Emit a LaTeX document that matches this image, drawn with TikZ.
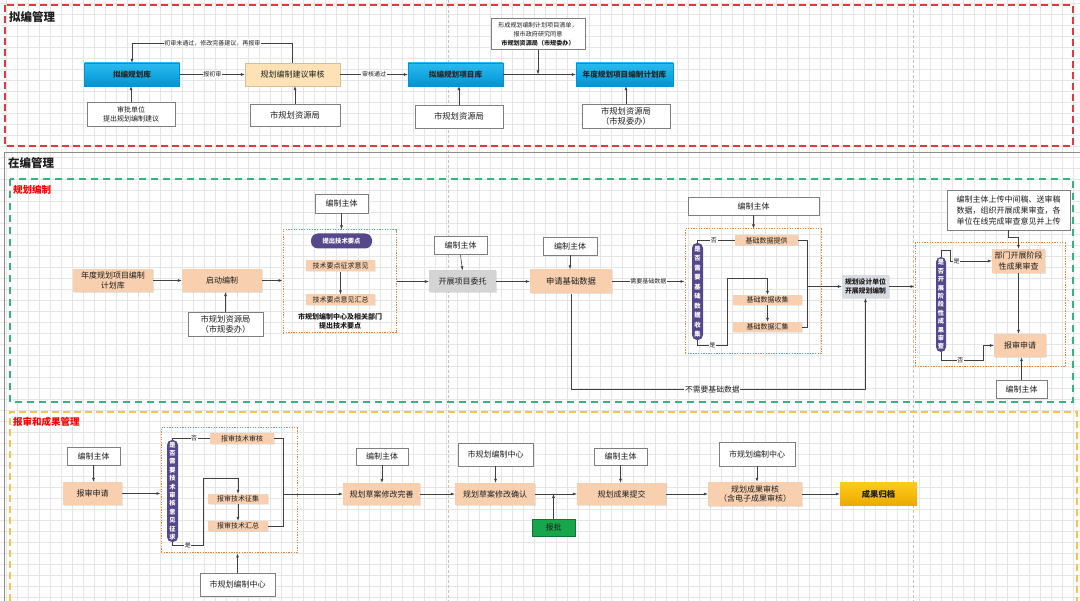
\documentclass[tikz,border=0pt]{standalone}
\usepackage{fontspec}
\setmainfont{Noto Sans CJK SC}
\usetikzlibrary{arrows.meta,shadows,calc}
\definecolor{cGrid}{HTML}{E6E6E6}
\definecolor{cPB}{HTML}{C4C4C4}
\definecolor{cRed}{HTML}{E2383F}
\definecolor{cGreen}{HTML}{3AB37B}
\definecolor{cYel}{HTML}{F3C44F}
\definecolor{cOra}{HTML}{E5863C}
\definecolor{cBlueT}{HTML}{2ABBEF}
\definecolor{cBlueB}{HTML}{0094D3}
\definecolor{cPeach}{HTML}{F8D0AF}
\definecolor{cYPeach}{HTML}{FCE2B4}
\definecolor{cGray}{HTML}{D4D4D4}
\definecolor{cGrayB}{HTML}{D9DBE3}
\definecolor{cPurple}{HTML}{55488A}
\definecolor{cGreenBox}{HTML}{16A74C}
\definecolor{cGoldT}{HTML}{FFCB1A}
\definecolor{cGoldB}{HTML}{EBAA00}
\definecolor{cArr}{HTML}{404040}
\definecolor{cTxt}{HTML}{1E1E1E}
\definecolor{cBorder}{HTML}{7F7F7F}
\definecolor{cFrame}{HTML}{8C8C8C}
\newcommand{\fz}[2]{\fontsize{#1}{#2}\selectfont}
\begin{document}
\begin{tikzpicture}[x=1pt,y=-1pt,
  every node/.style={text=cTxt, inner sep=1pt, align=center},
  wbox/.style={draw=cBorder, fill=white, line width=0.7pt, drop shadow={opacity=0.25,shadow xshift=0.8pt,shadow yshift=-0.8pt}, font=\fz{8}{10.5}},
  bluebox/.style={top color=cBlueT, bottom color=cBlueB, draw=cBlueB, line width=0.3pt, font=\fz{7.6}{9}\bfseries, text=black!85},
  peach/.style={fill=cPeach, drop shadow={opacity=0.2,shadow xshift=0.8pt,shadow yshift=-0.8pt}, font=\fz{8}{10.5}},
  speach/.style={fill=cPeach, font=\fz{7}{8}, inner sep=0pt, drop shadow={opacity=0.15,shadow xshift=0.6pt,shadow yshift=-0.6pt}},
  pill/.style={fill=cPurple, rounded corners=5pt, text=white, font=\fz{6.3}{9.5}\bfseries, inner sep=0pt},
  oframe/.style={draw=cOra, line width=1pt, dash pattern=on 1.3pt off 1.3pt, inner sep=0pt},
  arr/.style={draw=cArr, line width=0.6pt, -{Latex[length=4pt,width=3pt]}},
  ln/.style={draw=cArr, line width=0.6pt},
  lab/.style={fill=white, inner sep=0.6pt, font=\fz{6}{7}},
]
\useasboundingbox (0,0) rectangle (1080,601);
\fill[white] (0,0) rectangle (1080,601);
% grid
\foreach \x in {6,17,...,1080} \draw[cGrid, line width=0.4pt] (\x,0) -- (\x,601);
\foreach \y in {3,14,...,601} \draw[cGrid, line width=0.4pt] (0,\y) -- (1080,\y);
% page breaks
\draw[cPB, line width=0.6pt, dash pattern=on 3pt off 2pt] (448,0) -- (448,601);
\draw[cPB, line width=0.6pt, dash pattern=on 3pt off 2pt] (913,0) -- (913,601);

% ================= 拟编管理 =================
\draw[cRed, line width=1.3pt, dash pattern=on 7pt off 4pt] (5,5) rectangle (1073,146);
\node[anchor=west, font=\fz{11.5}{12}\bfseries] (T1) at (8,17) {拟编管理};

\node[bluebox, minimum width=95, minimum height=23] (n1) at (132,74.5) {拟编规划库};
\node[fill=cYPeach, draw=cYPeach!85!black, line width=0.3pt, font=\fz{8}{10}, minimum width=95, minimum height=23, drop shadow={opacity=0.2,shadow xshift=0.8pt,shadow yshift=-0.8pt}] (n2) at (292.5,74.5) {规划编制建议审核};
\node[bluebox, minimum width=95, minimum height=23] (n3) at (455.5,74.5) {拟编规划项目库};
\node[bluebox, minimum width=97, minimum height=23] (n4) at (624.5,74.5) {年度规划项目编制计划库};

\node[wbox, font=\fz{7}{9}, minimum width=88, minimum height=24] (s1) at (131,114) {审批单位\\提出规划编制建议};
\node[wbox, font=\fz{8.3}{10}, minimum width=90, minimum height=22] (s2) at (295,115) {市规划资源局};
\node[wbox, font=\fz{8.3}{10}, minimum width=88, minimum height=23] (s3) at (459,116.5) {市规划资源局};
\node[wbox, font=\fz{8.3}{10}, minimum width=88, minimum height=24] (s4) at (626,116.5) {市规划资源局\\（市规委办）};
\node[wbox, font=\fz{6.1}{9}, minimum width=94, minimum height=31] (t1) at (538,34) {形成规划编制计划项目清单，\\报市政府研究同意\\\textbf{市规划资源局（市规委办）}};

\path (n1.north) ++(0,-20) coordinate (tl);
\draw[arr] (n1.east) -- node[lab]{报初审} (n2.west);
\draw[arr] (n2.north) |- node[lab,pos=0.75]{初审未通过，修改完善建议，再报审} (tl) -- (n1.north);
\draw[arr] (n2.east) -- node[lab]{审核通过} (n3.west);
\draw[arr] (n3.east) -- (n4.west);
\draw[arr] (t1.south) -- (t1.south |- n3.east);
\draw[arr] (s1.north) -- (s1.north |- n1.south);
\draw[arr] (s2.north) -- (s2.north |- n2.south);
\draw[arr] (s3.north) -- (s3.north |- n3.south);
\draw[arr] (s4.north) -- (s4.north |- n4.south);

% ================= 在编管理 =================
\draw[cFrame, line width=0.8pt] (4,601) -- (4,152) -- (1080,152);
\node[anchor=west, font=\fz{11.5}{12}\bfseries] (T2) at (7,163) {在编管理};
\draw[cGreen, line width=1.3pt, dash pattern=on 7pt off 5pt] (10,179) rectangle (1073,402);
\node[anchor=west, font=\fz{9.5}{10}\bfseries, text=red] (T3) at (12,190) {规划编制};

\node[peach, minimum width=80, minimum height=23] (a1) at (113,280.5) {年度规划项目编制\\计划库};
\node[peach, minimum width=80, minimum height=23] (a2) at (222,280.5) {启动编制};
\node[wbox, font=\fz{8.3}{10}, minimum width=75, minimum height=24] (a3) at (225.5,324) {市规划资源局\\（市规委办）};
\node[oframe, minimum width=113, minimum height=103] (fr1) at (339.5,281.5) {};
\node[wbox, minimum width=53, minimum height=19] (a4) at (341.5,203.5) {编制主体};
\node[pill, rounded corners=7pt, minimum width=61, minimum height=15] (a5) at (341.5,241) {提出技术要点};
\node[speach, minimum width=69, minimum height=11] (a6) at (340.5,266) {技术要点征求意见};
\node[speach, minimum width=69, minimum height=11] (a7) at (340.5,300) {技术要点意见汇总};
\node[font=\fz{7}{9}\bfseries, inner sep=0pt] (a8) at (340,321.5) {市规划编制中心及相关部门\\提出技术要点};

\draw[arr] (a1.east) -- (a2.west);
\draw[arr] (a3.north) -- (a3.north |- a2.south);
\draw[arr] (a4.south) -- (a4.south |- fr1.north);
\draw[arr] (a6.south) -- (a7.north);
\draw[arr] (a2.east) -- (a2.east -| fr1.west);

\node[wbox, minimum width=53, minimum height=18] (b0) at (460.5,245.5) {编制主体};
\node[fill=cGray, font=\fz{8}{10}, minimum width=67, minimum height=22, drop shadow={opacity=0.2,shadow xshift=0.8pt,shadow yshift=-0.8pt}] (b1) at (462.5,281.5) {开展项目委托};
\draw[arr] (b0.south) -- (b1.north);
\draw[arr] (fr1.east |- b1.west) -- (b1.west);

\node[wbox, minimum width=54, minimum height=18] (c0) at (570,246) {编制主体};
\node[peach, font=\fz{8.3}{10}, minimum width=82, minimum height=24] (c1) at (571,281.5) {申请基础数据};
\draw[arr] (c0.south) -- (c0.south |- c1.north);
\draw[arr] (b1.east) -- (c1.west);

\node[oframe, minimum width=136, minimum height=125] (fr2) at (753,291.5) {};
\node[wbox, minimum width=131, minimum height=18] (d0) at (753.5,206) {编制主体};
\node[pill, minimum width=11, minimum height=97] (p1) at (697.5,291.5) {是\\否\\需\\要\\基\\础\\数\\据\\收\\集};
\node[speach, minimum width=63, minimum height=10] (d1) at (766.5,240.5) {基础数据提供};
\node[speach, minimum width=69, minimum height=10] (d2) at (767.5,300) {基础数据收集};
\node[speach, minimum width=69, minimum height=10] (d3) at (767.5,327) {基础数据汇集};
\node[fill=cGrayB, font=\fz{6.8}{9}\bfseries, minimum width=47, minimum height=23, drop shadow={opacity=0.2,shadow xshift=0.8pt,shadow yshift=-0.8pt}] (e1) at (865.5,286.5) {规划设计单位\\开展规划编制};

\draw[arr] (c1.east) -- node[lab]{需要基础数据} (c1.east -| fr2.west);
\draw[arr] (d0.south) -- (d0.south |- fr2.north);
\draw[ln] (p1.north) |- node[lab,pos=0.72]{否} (d1.west);
\coordinate (y1) at (727,345);
\coordinate (y2) at (727,278);
\draw[arr] (p1.south) |- node[lab,pos=0.75]{是} (y1) -- (y2) -| (d2.north);
\draw[arr] (d2.south) -- (d3.north);
\coordinate (mg) at (807,286.5);
\draw[ln] (d1.east) -| (807,327) -- (d3.east);
\draw[arr] (mg) -- (e1.west);
\path (e1.south) ++(0,91) coordinate (nb);
\draw[arr] (c1.south) |- node[lab,font=\fz{7.8}{9},pos=0.74]{不需要基础数据} (nb) -- (e1.south);

\node[oframe, minimum width=150, minimum height=124] (fr3) at (990,305) {};
\draw[arr] (e1.east) -- (e1.east -| fr3.west);
\node[wbox, font=\fz{8}{11}, minimum width=123, minimum height=40] (f0) at (1008.5,210) {编制主体上传中间稿、送审稿\\数据，组织开展成果审查，各\\单位在线完成审查意见并上传};
\node[pill, font=\fz{6.2}{8.4}\bfseries, minimum width=10, minimum height=95] (p2) at (941,304.5) {是\\否\\开\\展\\阶\\段\\性\\成\\果\\审\\查};
\node[peach, minimum width=53, minimum height=24] (f1) at (1018.5,261) {部门开展阶段\\性成果审查};
\node[peach, minimum width=52, minimum height=23] (f2) at (1020,345.5) {报审申请};
\node[wbox, minimum width=51, minimum height=18] (f3) at (1021.5,389) {编制主体};
\coordinate (q1) at (950,250);
\coordinate (q2) at (983,360);
\draw[arr] (p2.north) |- (q1) |- node[lab,pos=0.58]{是} (f1.west);
\draw[arr] (p2.south) |- node[lab,pos=0.73]{否} (q2) |- (f2.west);
\draw[arr] (f1.south) -- (f1.south |- f2.north);
\draw[arr] (f3.north) -- (f3.north |- f2.south);
\draw[arr] (f0.south) -- ++(0,7) -| (f1.north);

% ================= 报审和成果管理 =================
\draw[cYel, line width=1.3pt, dash pattern=on 7pt off 4pt] (10,601) -- (10,412) -- (1077,412) -- (1077,601);
\node[anchor=west, font=\fz{9.5}{10}\bfseries, text=red] (T4) at (12,422) {报审和成果管理};

\node[wbox, minimum width=53, minimum height=18] (g0) at (93.5,456) {编制主体};
\node[peach, minimum width=59, minimum height=23] (g1) at (92.5,493.5) {报审申请};
\draw[arr] (g0.south) -- (g0.south |- g1.north);

\node[oframe, minimum width=136, minimum height=125] (fr4) at (229,490.5) {};
\node[pill, font=\fz{6.2}{8.4}\bfseries, minimum width=11, minimum height=102] (p3) at (172.5,491) {是\\否\\需\\要\\技\\术\\审\\核\\意\\见\\征\\求};
\node[speach, minimum width=64, minimum height=11] (h1) at (242,438.5) {报审技术审核};
\node[speach, minimum width=60, minimum height=10] (h2) at (238,499) {报审技术征集};
\node[speach, minimum width=60, minimum height=10] (h3) at (238,526) {报审技术汇总};
\node[wbox, minimum width=75, minimum height=23] (k0) at (237.5,584.5) {市规划编制中心};

\draw[arr] (g1.east) -- (g1.east -| fr4.west);
\draw[ln] (p3.north) |- node[lab,pos=0.79]{否} (h1.west);
\coordinate (r1) at (203,545);
\coordinate (r2) at (203,478);
\draw[arr] (p3.south) |- node[lab,pos=0.75]{是} (r1) -- (r2) -| (h2.north);
\draw[arr] (h2.south) -- (h3.north);
\draw[ln] (h1.east) -| (283,526) -- (h3.east);
\draw[arr] (k0.north) -- (k0.north |- fr4.south);

\node[wbox, minimum width=52, minimum height=17] (i0) at (382,456.5) {编制主体};
\node[peach, minimum width=77, minimum height=22] (i1) at (381.5,494) {规划草案修改完善};
\node[wbox, minimum width=75, minimum height=23] (j0) at (495.5,454.5) {市规划编制中心};
\node[peach, minimum width=80, minimum height=22] (j1) at (495,494) {规划草案修改确认};
\node[fill=cGreenBox, draw=cGreenBox!70!black, line width=0.4pt, font=\fz{8}{10}, minimum width=43, minimum height=17] (jg) at (553.5,527.5) {报批};
\node[wbox, minimum width=53, minimum height=17] (l0) at (620.5,456.5) {编制主体};
\node[peach, minimum width=89, minimum height=22] (l1) at (621.5,494) {规划成果提交};
\node[wbox, minimum width=76, minimum height=24] (m0) at (757,454) {市规划编制中心};
\node[peach, font=\fz{8}{9.5}, minimum width=94, minimum height=24] (m1) at (755,494) {规划成果审核\\（含电子成果审核）};
\node[top color=cGoldT, bottom color=cGoldB, font=\fz{8.3}{10}\bfseries, minimum width=77, minimum height=23] (o1) at (878.5,494) {成果归档};

\coordinate (mo) at (283,494);
\draw[arr] (mo) -- (i1.west);
\draw[arr] (i0.south) -- (i0.south |- i1.north);
\draw[arr] (i1.east) -- (j1.west);
\draw[arr] (j0.south) -- (j0.south |- j1.north);
\draw[arr] (j1.east) -- (l1.west);
\draw[arr] (jg.north) -- (jg.north |- j1.east);
\draw[arr] (l0.south) -- (l0.south |- l1.north);
\draw[arr] (l1.east) -- (m1.west);
\draw[arr] (m0.south) -- (m0.south |- m1.north);
\draw[arr] (m1.east) -- (o1.west);
\end{tikzpicture}
\end{document}
